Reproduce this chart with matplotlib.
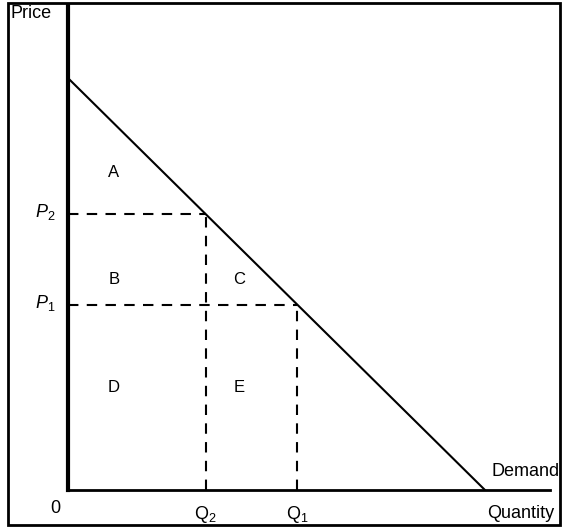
import matplotlib
matplotlib.use('Agg')
import matplotlib.pyplot as plt
from matplotlib.patches import Rectangle

plt.rcParams['font.family'] = ['Liberation Sans', 'DejaVu Sans']
plt.rcParams['mathtext.fontset'] = 'custom'
plt.rcParams['mathtext.rm'] = 'Liberation Sans'
plt.rcParams['mathtext.it'] = 'Liberation Sans:italic'

# demand curve P = 100 - Q
demand_q = [0, 100]
demand_p = [100, 0]

q_vals = [33, 55]        # Q2, Q1
p_vals = [67, 45]        # P2, P1
q_labels = [r'$\mathrm{Q}_2$', r'$\mathrm{Q}_1$']
p_labels = [r'$P_2$', r'$P_1$']

areas = ['A', 'B', 'C', 'D', 'E']
area_x = [11, 11, 41, 11, 41]
area_y = [77, 51, 51, 25, 25]

W, H = 562, 529
fig = plt.figure(figsize=(W / 100, H / 100), dpi=100)

# outer frame
fig.patches.append(Rectangle((8 / W, 4 / H), 552 / W, 522 / H, transform=fig.transFigure,
                             fill=False, lw=2, ec='black'))

ax = fig.add_axes([68 / W, (H - 490) / H, (550 - 68) / W, (490 - 6) / H])
ax.set_xlim(0, 115.6)
ax.set_ylim(0, 117.5)
for s in ['top', 'right']:
    ax.spines[s].set_visible(False)
ax.spines['left'].set_linewidth(3)
ax.spines['bottom'].set_linewidth(2)
ax.set_xticks([])
ax.set_yticks([])
ax.patch.set_alpha(0)

ax.plot(demand_q, demand_p, color='black', lw=1.5)

for q, p in zip(q_vals, p_vals):
    ax.plot([0, q], [p, p], color='black', lw=1.5, ls=(0, (5, 4)))
    ax.plot([q, q], [0, p], color='black', lw=1.5, ls=(0, (5, 4)))

fs = 13
for q, lab in zip(q_vals, q_labels):
    ax.text(q, -3.3, lab, ha='center', va='top', fontsize=fs)
for p, lab in zip(p_vals, p_labels):
    ax.text(-3.0, p + 0.5, lab, ha='right', va='center', fontsize=fs)
for a, x, y in zip(areas, area_x, area_y):
    ax.text(x, y, a, ha='center', va='center', fontsize=12)

ax.text(-1.8, -2.5, '0', ha='right', va='top', fontsize=fs)
fig.text(11 / W, 1 - 13 / H, 'Price', ha='left', va='center', fontsize=fs)
fig.text(560 / W, 1 - 472 / H, 'Demand', ha='right', va='center', fontsize=fs)
fig.text(554 / W, 1 - 513 / H, 'Quantity', ha='right', va='center', fontsize=fs)

fig.savefig('out.png', dpi=100)
